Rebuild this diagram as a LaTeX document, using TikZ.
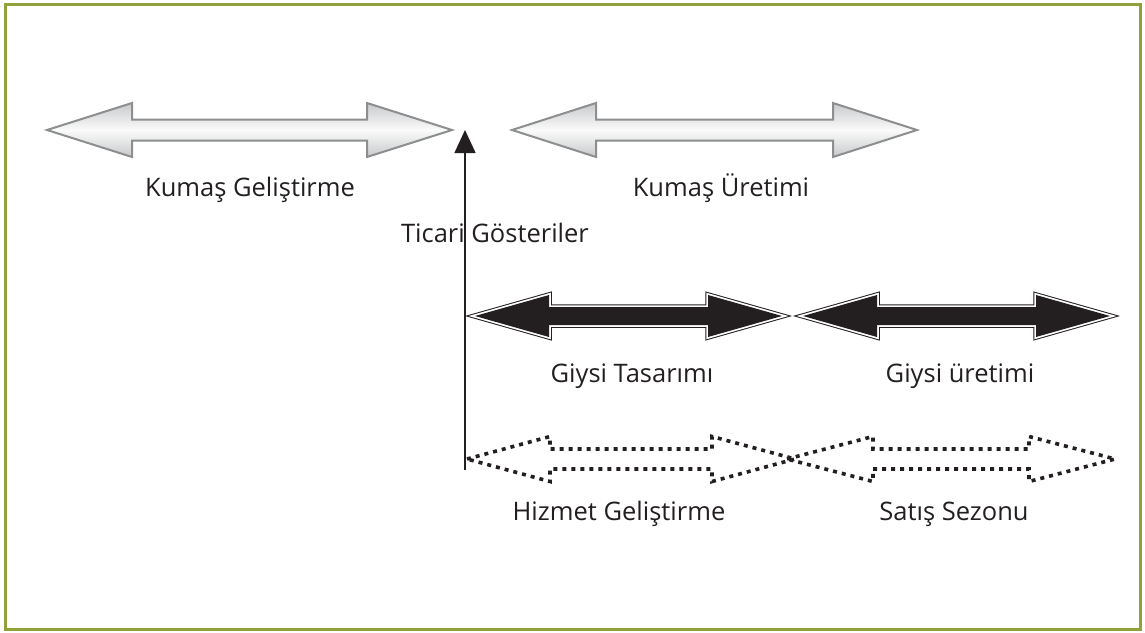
\documentclass[tikz,border=0pt]{standalone}
\usepackage{fontspec}
\setmainfont{Open Sans}
\usetikzlibrary{arrows.meta}
\definecolor{framegreen}{RGB}{143,163,58}
\definecolor{inkdark}{RGB}{35,31,32}
\definecolor{greyedge}{RGB}{140,142,144}
\definecolor{greyfill}{RGB}{200,201,203}

% Outline of a double-headed block arrow:
% #1 left tip x, #2 right tip x, #3 centre y, #4 head length, #5 head half-height, #6 shaft half-height
\newcommand{\twowaypath}[6]{%
  (#1,#3) -- ({#1+#4},{#3-#5}) -- ({#1+#4},{#3-#6}) -- ({#2-#4},{#3-#6})
  -- ({#2-#4},{#3-#5}) -- (#2,#3) -- ({#2-#4},{#3+#5}) -- ({#2-#4},{#3+#6})
  -- ({#1+#4},{#3+#6}) -- ({#1+#4},{#3+#5}) -- cycle}

\tikzset{
  label/.style={inner sep=0pt, anchor=base, text=inkdark, font=\fontsize{25.5}{28}\selectfont},
  greyarrow/.style={draw=greyedge, line width=2pt, line join=miter,
    top color=greyfill, bottom color=greyfill, middle color=white!92!greyfill},
  dotarrow/.style={draw=inkdark, line width=3.6pt, dash pattern=on 4pt off 5pt},
  axisarrow/.style={draw=inkdark, line width=1.4pt, -{Triangle[length=23pt,width=21pt]}},
}

\begin{document}
\begin{tikzpicture}[x=1pt,y=-1pt]
  \useasboundingbox (0,0) rectangle (1145,632);
  % frame
  \draw[framegreen, line width=3pt] (5,4) rectangle (1140,629);

  % fabric arrows (grey)
  \path[greyarrow] \twowaypath{47}{452}{130}{85}{27}{10.5};
  \path[greyarrow] \twowaypath{512}{917}{130}{84}{27}{10.5};

  % garment arrows (black with white inner rim)
  \foreach \a/\b in {475/782, 803/1110} {
    \draw[inkdark, line width=5.5pt, line join=miter] \twowaypath{\a}{\b}{316}{74}{21}{9};
    \draw[white, line width=3.5pt, line join=miter] \twowaypath{\a}{\b}{316}{74}{21}{9};
    \fill[inkdark] \twowaypath{\a}{\b}{316}{74}{21}{9};
  }

  % service / sales arrows (dotted)
  \path[dotarrow] \twowaypath{467}{795}{459}{83}{22.5}{10};
  \path[dotarrow] \twowaypath{787}{1115}{459}{86}{22.5}{10};

  % trade-show axis
  \coordinate (axisfoot) at (465,470);
  \coordinate (axistop) at (465,130);
  \draw[axisarrow] (axisfoot) -- (axistop);

  % labels
  \node[label] (kg) at (250,196) {Kumaş Geliştirme};
  \node[label] (ku) at (721,196) {Kumaş Üretimi};
  \node[label] (tg) at (495,242) {Ticari Gösteriler};
  \node[label] (gt) at (632,382) {Giysi Tasarımı};
  \node[label] (gu) at (960,382) {Giysi üretimi};
  \node[label] (hg) at (619,520) {Hizmet Geliştirme};
  \node[label] (ss) at (954,520) {Satış Sezonu};
\end{tikzpicture}
\end{document}
